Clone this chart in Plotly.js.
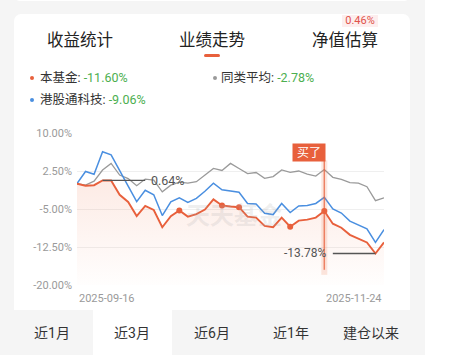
<!DOCTYPE html>
<html><head><meta charset="utf-8">
<script src="https://cdn.plot.ly/plotly-3.0.1.min.js"></script>
<style>
html,body{margin:0;padding:0;width:451px;height:355px;overflow:hidden;background:#f5f5f5;font-family:Roboto,"Noto Sans CJK SC",sans-serif;}
.abs{position:absolute;}
#rightstrip{left:425px;top:0;width:26px;height:355px;background:#fff;}
#topcard{left:14px;top:-10px;width:396px;height:11px;background:#fff;border-radius:0 0 6px 6px;}
#card{left:14px;top:14px;width:396px;height:296px;background:#fff;border-radius:7px 7px 0 0;}
.tab{width:100px;text-align:center;top:31px;line-height:20px;font-size:16.5px;color:#222;}
#uline{left:204px;top:54px;width:16px;height:3px;background:#e8603c;border-radius:2px;}
#badge{left:342px;top:15px;width:36px;height:12px;background:#fdeeee;color:#e0524a;font-size:11px;line-height:12px;text-align:center;}
.dot{width:4px;height:4px;border-radius:50%;}
.leg{font-size:12.5px;line-height:16px;color:#333;white-space:nowrap;}
.leg .v{color:#4caf50;}
#seltab{left:93px;top:310px;width:79px;height:45px;background:#fff;}
.btab{top:324px;width:80px;text-align:center;font-size:14px;line-height:18px;color:#333;}
#chart{left:0;top:0;width:451px;height:355px;}
</style></head>
<body>
<div class="abs" id="rightstrip"></div>
<div class="abs" id="topcard"></div>
<div class="abs" id="card"></div>
<div class="abs tab" style="left:30px">收益统计</div>
<div class="abs tab" style="left:162px">业绩走势</div>
<div class="abs tab" style="left:295px">净值估算</div>
<div class="abs" id="uline"></div>
<div class="abs" id="badge">0.46%</div>
<div class="abs dot" style="left:30px;top:76px;background:#e8603c"></div>
<div class="abs leg" style="left:40px;top:70px">本基金: <span class="v">-11.60%</span></div>
<div class="abs dot" style="left:212.5px;top:76px;background:#9a9a9a"></div>
<div class="abs leg" style="left:221px;top:70px">同类平均: <span class="v">-2.78%</span></div>
<div class="abs dot" style="left:30px;top:98px;background:#4a8fe0"></div>
<div class="abs leg" style="left:40px;top:92px">港股通科技: <span class="v">-9.06%</span></div>
<div class="abs" id="seltab"></div>
<div class="abs btab" style="left:12px">近1月</div>
<div class="abs btab" style="left:92px">近3月</div>
<div class="abs btab" style="left:172px">近6月</div>
<div class="abs btab" style="left:251px">近1年</div>
<div class="abs btab" style="left:331px">建仓以来</div>
<div class="abs" id="chart"></div>
<script>
// 本基金
const fundValues = [0, -0.4, -0.3, 0.64, 0.62, -2.2, -3.6, -6.4, -4.4, -5.2, -8.6, -6.4, -5.3,
  -6.5, -6.0, -5.1, -3.1, -4.3, -4.5, -4.65, -6.5, -6.7, -8.35, -8.6, -6.7, -8.5, -7.3, -7.1,
  -6.7, -5.4, -7.9, -8.7, -10.1, -10.9, -11.6, -13.78, -11.60];
// 同类平均
const peerValues = [0, -0.3, 0.5, 2.7, 4.0, 1.7, 1.0, -0.4, 0.9, 0.7, -1.6, -0.3, 0.3,
  0.1, 0.4, 1.7, 3.0, 2.6, 4.0, 3.0, 2.0, 2.2, 1.05, 1.4, 2.7, 2.25, 2.5, 1.9,
  1.5, 2.8, 1.25, 0.85, 0.2, 0.1, -0.6, -3.35, -2.78];
// 港股通科技
const indexValues = [0, 2.4, 1.85, 6.3, 5.7, 2.5, -0.5, -3.55, -1.3, -2.2, -6.3, -3.6, -2.8,
  -3.7, -2.9, -1.5, 0.1, -1.2, -1.4, -1.7, -3.9, -4.0, -5.85, -6.1, -3.9, -5.7, -4.4, -4.3,
  -3.9, -2.7, -5.0, -5.8, -7.4, -8.2, -8.9, -11.6, -9.06];
const markedPoints = [12, 17, 19, 25, 29];
const buyPoint = 29;
const buyLabel = '买了';
const xLabels = ['2025-09-16', '2025-11-24'];
const yTickVals = [10, 2.5, -5, -12.5, -20];
const yTickText = ['10.00%', '2.50%', '-5.00%', '-12.50%', '-20.00%'];
const watermark = '天天基金';

const xs = fundValues.map((_, i) => i);
const n = xs.length - 1;
const yMin = -20, yMax = 10;
const ORANGE = '#e8603c', BLUE = '#4a8fe0', GRAY = '#9a9a9a';

const maxV = Math.max(...fundValues), maxI = fundValues.indexOf(maxV);
const minV = Math.min(...fundValues), minI = fundValues.indexOf(minV);

const traces = [
  {x: xs, y: xs.map(() => yMin), mode: 'lines', line: {width: 0}, hoverinfo: 'skip', showlegend: false},
  {x: xs, y: fundValues, mode: 'lines', line: {width: 0}, fill: 'tonexty',
   fillgradient: {type: 'vertical', start: yMin, stop: maxV,
     colorscale: [[0, 'rgba(240,120,80,0.01)'], [1, 'rgba(240,120,80,0.15)']]}, showlegend: false},
  {x: xs, y: peerValues, mode: 'lines', line: {color: GRAY, width: 1.3}, showlegend: false},
  {x: xs, y: indexValues, mode: 'lines', line: {color: BLUE, width: 1.5}, showlegend: false},
  {x: xs, y: fundValues, mode: 'lines', line: {color: ORANGE, width: 1.9}, showlegend: false},
  {x: markedPoints, y: markedPoints.map(i => fundValues[i]), mode: 'markers',
   marker: {color: ORANGE, size: 6}, showlegend: false}
];

const layout = {
  width: 451, height: 355,
  margin: {l: 77, r: 67, t: 133, b: 70},
  paper_bgcolor: 'rgba(0,0,0,0)', plot_bgcolor: 'rgba(0,0,0,0)',
  font: {family: 'Roboto, "Noto Sans CJK SC", sans-serif'},
  xaxis: {range: [0, n], showgrid: false, zeroline: false, showticklabels: false, ticks: '', showline: false},
  yaxis: {range: [yMin, yMax], tickvals: yTickVals, ticktext: yTickText, gridcolor: '#efefef', gridwidth: 1,
    zeroline: false, ticks: '', ticklabelstandoff: 4, tickfont: {size: 11, color: '#9a9a9a'}},
  shapes: [
    {type: 'line', xref: 'x', yref: 'y', x0: maxI, x1: maxI + 5, y0: maxV, y1: maxV, line: {color: '#555', width: 1.3}},
    {type: 'line', xref: 'x', yref: 'y', x0: minI - 5, x1: minI, y0: minV, y1: minV, line: {color: '#555', width: 1.3}},
    {type: 'line', xref: 'x', yref: 'y', x0: buyPoint, x1: buyPoint, y0: -18, y1: 4.6, line: {color: 'rgba(240,120,80,0.18)', width: 6}},
    {type: 'line', xref: 'x', yref: 'y', x0: buyPoint, x1: buyPoint, y0: -17, y1: 4.6, line: {color: 'rgba(232,96,60,0.75)', width: 1.5}}
  ],
  annotations: [
    {xref: 'x', yref: 'paper', x: 0, y: 0, xanchor: 'left', yanchor: 'top', yshift: -5, showarrow: false,
     text: xLabels[0], font: {size: 11, color: '#9a9a9a'}},
    {xref: 'x', yref: 'paper', x: n, y: 0, xanchor: 'right', yanchor: 'top', yshift: -5, showarrow: false,
     text: xLabels[1], font: {size: 11, color: '#9a9a9a'}},
    {xref: 'x', yref: 'y', x: maxI + 5, y: maxV, xanchor: 'left', xshift: 4, showarrow: false,
     text: maxV.toFixed(2) + '%', font: {size: 12.5, color: '#555'}},
    {xref: 'x', yref: 'y', x: minI - 5, y: minV, xanchor: 'right', xshift: -5, showarrow: false,
     text: minV.toFixed(2) + '%', font: {size: 12, color: '#555'}},
    {xref: 'x', yref: 'y', x: buyPoint, y: 6.2, xanchor: 'right', yanchor: 'middle', xshift: 1.5, showarrow: false,
     text: buyLabel, bgcolor: ORANGE, borderpad: 2, width: 28, height: 13, font: {size: 12, color: '#fff'}},
    {xref: 'paper', yref: 'paper', x: 0.51, y: 0.455, showarrow: false, text: '<b>' + watermark + '</b>',
     font: {size: 24, color: 'rgba(170,170,170,0.2)'}}
  ]
};
Plotly.newPlot('chart', traces, layout, {staticPlot: true, displayModeBar: false});
</script>
</body></html>
